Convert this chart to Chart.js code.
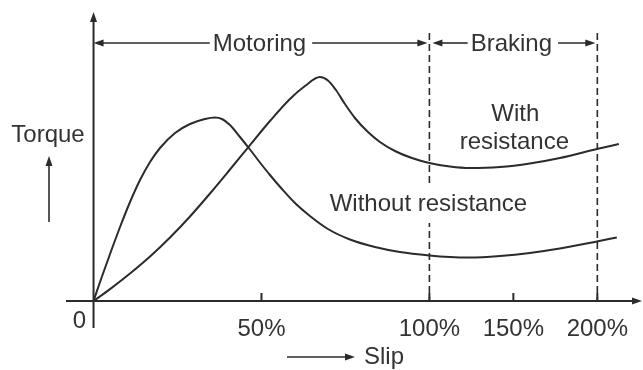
<!DOCTYPE html>
<html>
<head>
<meta charset="utf-8">
<title>Torque vs slip</title>
<script src="https://cdn.jsdelivr.net/npm/chart.js@4.4.1/dist/chart.umd.min.js"></script>
<style>
  html, body { margin: 0; padding: 0; background: #fff; }
  #wrap { width: 643px; height: 370px; position: relative; }
</style>
</head>
<body>
<div id="wrap"><canvas id="torqueChart"></canvas></div>
<script>
// slip in percent, torque in relative units
const slipWithout = [0, 1.93, 4.91, 7.89, 10.86, 13.84, 16.82, 19.79, 24.26, 28.72, 33.18, 36.16, 38.24, 40.62, 43.6, 46.58, 49.55, 52.53, 56.1, 59.97, 64.43, 69.79, 76.34, 83.78, 91.22, 100, 112.2, 124.1, 142, 159.8, 177.7, 199.7, 211.6];
const torqueWithout = [0, 9.5, 23.5, 37, 49.5, 60.5, 69.5, 76.5, 84, 88.5, 91, 91.75, 91, 88, 82, 75.75, 69.25, 63, 56, 49, 42.5, 36, 30.75, 27, 24.5, 22.75, 22, 21.75, 22.5, 24, 26.25, 29.75, 31.75];

const slipWith = [0, 4.91, 10.86, 16.82, 22.77, 28.72, 34.67, 40.62, 46.58, 52.53, 58.48, 62.95, 67.41, 69.79, 72.17, 74.85, 77.83, 81.4, 85.27, 89.73, 94.79, 100, 112.2, 124.1, 142, 159.8, 177.7, 199.7, 212.8];
const torqueWith = [0, 5.95, 13.75, 22.25, 31.75, 42.25, 53.75, 65.75, 77.95, 90, 101, 107.5, 112, 110.25, 105.5, 98.5, 91.5, 85, 79.5, 75, 71.5, 69, 67.25, 66.5, 67, 68.75, 71.5, 76, 78.5];

const slipTicks = [0, 50, 100, 150, 200];
const slipTickLabels = ["0", "50%", "100%", "150%", "200%"];

const regionNames = ["Motoring", "Braking"];
const regionStart = [0, 100];
const regionEnd = [100, 200];

// the braking side of the axis is drawn at half the scale of the motoring side
function axisPos(s) {
  return s <= 100 ? s : 100 + (s - 100) / 2;
}

function toPoints(xs, ys) {
  return xs.map((s, i) => ({ x: axisPos(s), y: ys[i] }));
}

const INK = "#2b2b2b";
const TEXT = "#333";
const FONT = "24px 'Liberation Sans', Arial, sans-serif";

function arrowHead(ctx, x, y, dir) {
  // dir: "up", "right", "left"
  const len = 10, half = 3.5;
  ctx.beginPath();
  if (dir === "up") {
    ctx.moveTo(x, y);
    ctx.lineTo(x - half, y + len);
    ctx.lineTo(x + half, y + len);
  } else if (dir === "right") {
    ctx.moveTo(x, y);
    ctx.lineTo(x - len, y - half);
    ctx.lineTo(x - len, y + half);
  } else {
    ctx.moveTo(x, y);
    ctx.lineTo(x + len, y - half);
    ctx.lineTo(x + len, y + half);
  }
  ctx.closePath();
  ctx.fill();
}

function line(ctx, x1, y1, x2, y2) {
  ctx.beginPath();
  ctx.moveTo(x1, y1);
  ctx.lineTo(x2, y2);
  ctx.stroke();
}

const diagram = {
  id: "diagram",
  beforeDatasetsDraw(chart) {
    const ctx = chart.ctx;
    const xs = chart.scales.x, ys = chart.scales.y;
    const area = chart.chartArea;
    const x0 = xs.getPixelForValue(0);
    const y0 = ys.getPixelForValue(0);
    const px = (s) => xs.getPixelForValue(axisPos(s));

    ctx.save();
    ctx.strokeStyle = INK;
    ctx.fillStyle = INK;
    ctx.lineWidth = 2;

    // axes
    line(ctx, x0, area.bottom, x0, area.top + 4);
    arrowHead(ctx, x0, area.top, "up");
    line(ctx, area.left, y0, area.right - 4, y0);
    arrowHead(ctx, area.right, y0, "right");

    // tick marks
    slipTicks.forEach((s) => {
      if (s > 0) line(ctx, px(s), y0, px(s), y0 - 8);
    });

    // dashed boundaries
    ctx.lineWidth = 1.6;
    ctx.setLineDash([7, 4]);
    [100, 200].forEach((s) => line(ctx, px(s), 33, px(s), y0));
    ctx.setLineDash([]);

    // region arrows
    ctx.lineWidth = 1.6;
    ctx.font = FONT;
    ctx.textAlign = "center";
    ctx.textBaseline = "middle";
    const ay = 43;
    regionNames.forEach((name, i) => {
      const a = px(regionStart[i]) + (i === 0 ? 0 : 3);
      const b = px(regionEnd[i]) - 2;
      const mid = xs.getPixelForValue((axisPos(regionStart[i]) + axisPos(regionEnd[i])) / 2);
      const w = ctx.measureText(name).width;
      ctx.fillStyle = INK;
      line(ctx, a + 4, ay, mid - w / 2 - 5, ay);
      line(ctx, mid + w / 2 + 4, ay, b - 4, ay);
      arrowHead(ctx, a, ay, "left");
      arrowHead(ctx, b, ay, "right");
      ctx.fillStyle = TEXT;
      ctx.fillText(name, mid - 2, ay + 1);
    });

    // curve labels
    ctx.fillStyle = TEXT;
    const wx = px(150);
    ctx.fillText("With", wx + 2, 114);
    ctx.fillText("resistance", wx + 1, 142);

    const nx = px(100) - 1;
    const tw = ctx.measureText("Without resistance").width;
    ctx.fillStyle = "#fff";
    ctx.fillRect(nx - tw / 2 - 4, 184, tw + 8, 39);
    ctx.fillStyle = TEXT;
    ctx.fillText("Without resistance", nx, 204);

    // tick labels
    slipTickLabels.forEach((label, i) => {
      const s = slipTicks[i];
      if (s === 0) {
        ctx.fillText(label, x0 - 14, y0 + 20);
      } else {
        ctx.fillText(label, px(s), y0 + 28);
      }
    });

    // axis titles
    ctx.fillText("Torque", 48, 135);
    ctx.strokeStyle = INK;
    ctx.fillStyle = INK;
    ctx.lineWidth = 1.6;
    line(ctx, 49, 222, 49, 162);
    arrowHead(ctx, 49, 156, "up");

    line(ctx, 287, 357, 348, 357);
    arrowHead(ctx, 355, 357, "right");
    ctx.fillStyle = TEXT;
    ctx.textAlign = "left";
    ctx.fillText("Slip", 364, 357);

    ctx.restore();
  }
};

new Chart(document.getElementById("torqueChart"), {
  type: "line",
  data: {
    datasets: [
      {
        label: "Without resistance",
        data: toPoints(slipWithout, torqueWithout),
        borderColor: INK,
        borderWidth: 2,
        pointRadius: 0,
        cubicInterpolationMode: "monotone",
        fill: false,
      },
      {
        label: "With resistance",
        data: toPoints(slipWith, torqueWith),
        borderColor: INK,
        borderWidth: 2,
        pointRadius: 0,
        cubicInterpolationMode: "monotone",
        fill: false,
      },
    ],
  },
  options: {
    responsive: true,
    maintainAspectRatio: false,
    animation: false,
    layout: {
      padding: { left: 66, right: 1, top: 12, bottom: 42 },
    },
    scales: {
      x: { type: "linear", display: false, min: -8.2, max: 163.3 },
      y: { type: "linear", display: false, min: -13.5, max: 144.5 },
    },
    plugins: {
      legend: { display: false },
      tooltip: { enabled: false },
    },
  },
  plugins: [diagram],
});
</script>
</body>
</html>
